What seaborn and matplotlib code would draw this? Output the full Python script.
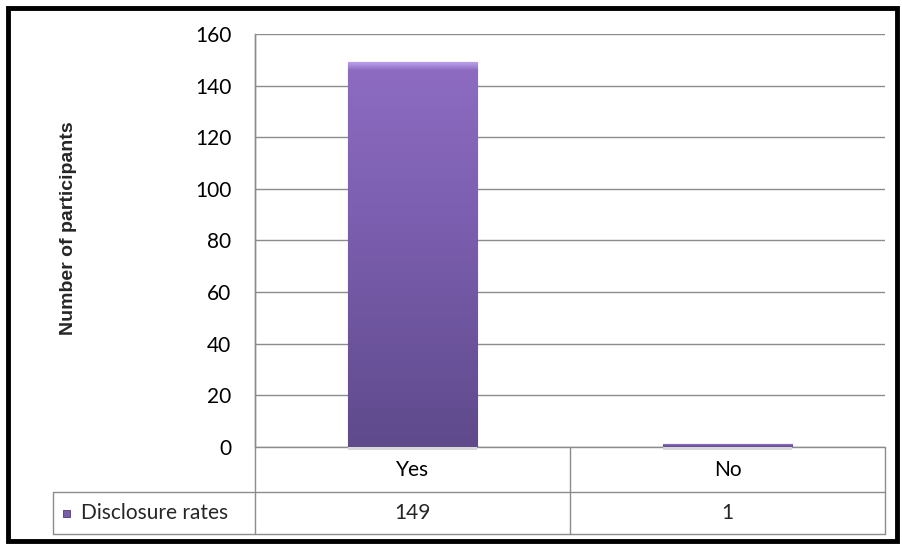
import matplotlib
matplotlib.use("Agg")
import matplotlib.pyplot as plt
import numpy as np
import pandas as pd
import seaborn as sns
from matplotlib.colors import LinearSegmentedColormap
from matplotlib.patches import Rectangle

# data
categories = ["Yes", "No"]
disclosure_rates = [149, 1]
series_name = "Disclosure rates"
y_ticks = [0, 20, 40, 60, 80, 100, 120, 140, 160]

df = pd.DataFrame({"answer": categories, "count": disclosure_rates})

sns.set_theme(style="white")
plt.rcParams["font.family"] = ["Lato", "DejaVu Sans"]

fig = plt.figure(figsize=(9.02, 5.46), dpi=100)
ax = fig.add_axes([255 / 902, 1 - 447 / 546, 630 / 902, 413 / 546])

sns.barplot(data=df, x="answer", y="count", color="#7a5eab", width=0.41,
            edgecolor="#4a3a70", linewidth=0.8, ax=ax, zorder=3)

# vertical gradient on each bar (bevelled light top, darker bottom), clipped to the bar
grad = LinearSegmentedColormap.from_list(
    "bar", [(0, "#b89ce8"), (0.02, "#8c6bc0"), (0.4, "#7c5fb0"), (1, "#5f4a8c")])
for bar in ax.patches:
    x0, y0 = bar.get_x(), bar.get_y()
    w, h = bar.get_width(), bar.get_height()
    # soft shadow just under the bar
    ax.add_patch(Rectangle((x0, y0), w, -1.2, facecolor="#d9d9d9", edgecolor="none",
                           zorder=2.5, clip_on=False))
    img = ax.imshow(np.linspace(0, 1, 256).reshape(-1, 1), cmap=grad, aspect="auto",
                    extent=[x0, x0 + w, y0, y0 + h], zorder=3.5)
    img.set_clip_path(bar)

ax.set_xlim(-0.5, 1.5)
ax.set_ylim(0, 160)
ax.set_yticks(y_ticks)
ax.yaxis.grid(True, color="#8c8c8c", linewidth=1)
ax.set_axisbelow(True)
for side in ["top", "right", "bottom"]:
    ax.spines[side].set_visible(False)
ax.spines["left"].set_color("#8c8c8c")
ax.spines["left"].set_linewidth(1)
ax.tick_params(axis="y", length=0, pad=17, labelsize=15, labelcolor="black")
ax.tick_params(axis="x", length=0, pad=9, labelsize=15, labelcolor="black")
ax.set_xlabel("")
ax.set_ylabel("Number of participants", fontsize=14, fontweight="bold",
              family=["Liberation Sans", "DejaVu Sans"])
ax.yaxis.set_label_coords(-178 / 630, 0.53)

# data table under the axis
line_kw = dict(color="#8c8c8c", linewidth=1, transform=ax.transAxes, clip_on=False)
row1 = -45 / 413
row2 = -87 / 413
left = -202 / 630
ax.plot([0, 0], [1, row2], **line_kw)
ax.plot([0.5, 0.5], [0, row2], **line_kw)
ax.plot([1, 1], [0, row2], **line_kw)
ax.plot([left, 1], [row1, row1], **line_kw)
ax.plot([left, 1], [row2, row2], **line_kw)
ax.plot([left, left], [row1, row2], **line_kw)
ax.plot([0, 1], [0, 0], **line_kw)

mid = (row1 + row2) / 2
for i, v in enumerate(disclosure_rates):
    ax.text((i + 0.5) / len(categories), mid, str(v), transform=ax.transAxes,
            ha="center", va="center", fontsize=15)
ax.add_patch(Rectangle((left + 10 / 630, mid - 3.5 / 413), 7 / 630, 7 / 413,
                       transform=ax.transAxes, clip_on=False,
                       facecolor="#7a5eab", edgecolor="#4a3a70", linewidth=0.6))
ax.text(left + 28 / 630, mid, series_name, transform=ax.transAxes,
        ha="left", va="center", fontsize=15)

# outer frame
fig.patches.append(Rectangle((8 / 902, 5 / 546), 889 / 902, 533 / 546,
                             transform=fig.transFigure, fill=False,
                             edgecolor="black", linewidth=3.5))

fig.savefig("out.png", dpi=100)
